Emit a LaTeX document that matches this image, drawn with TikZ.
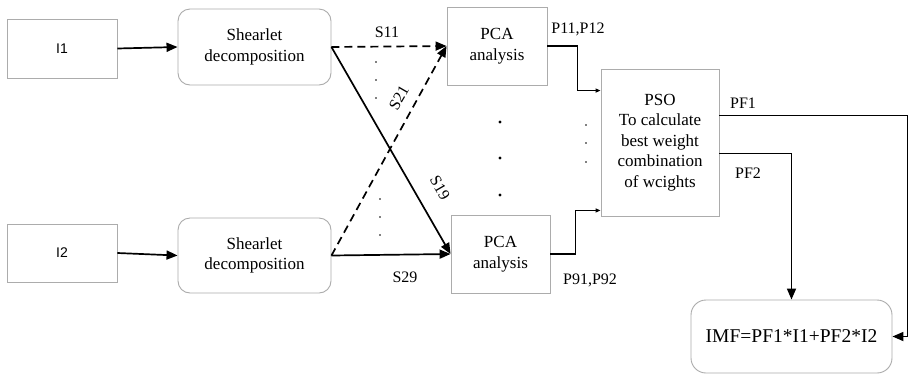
\documentclass[tikz,border=0pt]{standalone}
\usepackage{fontspec}
\setmainfont{Liberation Serif}
\newfontfamily\arialf{Liberation Sans}
\usetikzlibrary{arrows.meta,calc}
\begin{document}
\begin{tikzpicture}[x=1pt,y=-1pt,
  box/.style={draw=gray!65,line width=0.9pt,fill=white,align=center,inner sep=0pt,
    font=\fontsize{17}{20.5}\selectfont},
  rbox/.style={box,rounded corners=12pt},
  arr/.style={line width=1.7pt,-{Triangle[length=11pt,width=9pt]}},
  sarr/.style={line width=1.2pt,-{Triangle[length=5pt,width=4pt]}},
  dsh/.style={dash pattern=on 8pt off 5pt},
  lbl/.style={font=\fontsize{16}{18}\selectfont,inner sep=0pt},
  sdot/.style={fill=black,circle,inner sep=0pt,minimum size=1.6pt},
  bdot/.style={fill=black,circle,inner sep=0pt,minimum size=3.2pt}]
\useasboundingbox (0,0) rectangle (910,376);
\fill[white] (0,0) rectangle (910,376);

\node[box,minimum width=110pt,minimum height=59pt,font=\arialf\fontsize{14}{16}\selectfont] (i1) at (62,48.5) {I1};
\node[box,minimum width=110pt,minimum height=58pt,font=\arialf\fontsize{14}{16}\selectfont] (i2) at (62,253) {I2};
\node[rbox,minimum width=153pt,minimum height=76pt] (sh1) at (254.5,47) {Shearlet\\decomposition};
\node[rbox,minimum width=153pt,minimum height=75pt] (sh2) at (254.5,255.5) {Shearlet\\decomposition};
\node[box,minimum width=100pt,minimum height=78pt] (pca1) at (497,46) {PCA\\analysis};
\node[box,minimum width=99pt,minimum height=78pt] (pca2) at (500.5,254) {PCA\\analysis};
\node[box,minimum width=118pt,minimum height=147pt] (pso) at (660,142.5) {PSO\\To calculate\\best weight\\combination\\of wcights};
\node[rbox,rounded corners=15pt,minimum width=201pt,minimum height=73pt,font=\fontsize{19.5}{22}\selectfont] (imf) at (791.5,336.5) {IMF=PF1*I1+PF2*I2};

\draw[arr] (i1.east) -- (sh1.west);
\draw[arr] (i2.east) -- (sh2.west);
\draw[arr,dsh] (sh1.east) -- (pca1.west);
\draw[arr] (sh1.east) -- (pca2.west);
\draw[arr,dsh] (sh2.east) -- (pca1.west);
\draw[arr] (sh2.east) -- (pca2.west);

\draw[sarr] (pca1.east) -- ++(30,0) |- ([yshift=-22pt]pso.north west);
\draw[sarr] (pca2.east) -- ++(25,0) |- ([yshift=6pt]pso.south west);
\draw[arr] ([yshift=-47pt]pso.north east) -- ++(188,0) |- (imf.east);
\draw[arr] ([yshift=-85pt]pso.north east) -| (imf.north);

\node[lbl] (s11) at (387,32) {S11};
\node[lbl,rotate=60] (s21) at (399,98) {S21};
\node[lbl,rotate=-60] (s19) at (440,188) {S19};
\node[lbl] (s29) at (405,277) {S29};
\node[lbl] (p11) at (578,29) {P11,P12};
\node[lbl] (p91) at (590,280) {P91,P92};
\node[lbl] (pf1) at (743,103) {PF1};
\node[lbl] (pf2) at (748,173) {PF2};

\foreach \y [count=\k] in {62,80,98} \node[sdot] (da\k) at (376,\y) {};
\foreach \y [count=\k] in {199,217,235} \node[sdot] (db\k) at (380,\y) {};
\foreach \y [count=\k] in {122,158,195} \node[bdot] (dc\k) at (500,\y) {};
\foreach \y [count=\k] in {125,143,162} \node[sdot] (dd\k) at (586,\y) {};
\end{tikzpicture}
\end{document}
